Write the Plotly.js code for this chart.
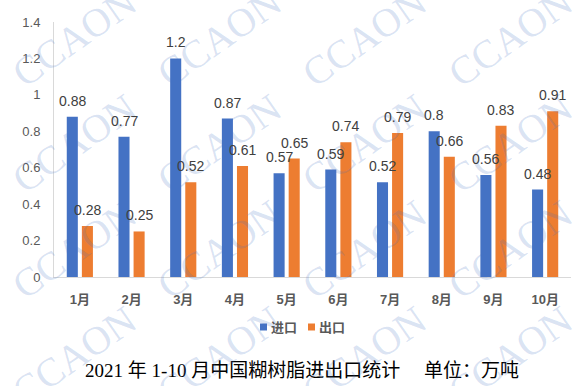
<!DOCTYPE html>
<html><head><meta charset="utf-8">
<script src="https://cdn.plot.ly/plotly-3.0.1.min.js"></script>
<style>html,body{margin:0;padding:0;background:#fff}#chart{width:588px;height:386px}</style>
</head><body><div id="chart"></div>
<script>
// ---- data ----
const months = ['1月','2月','3月','4月','5月','6月','7月','8月','9月','10月'];
const importVals = [0.88, 0.77, 1.2, 0.87, 0.57, 0.59, 0.52, 0.8, 0.56, 0.48];
const exportVals = [0.28, 0.25, 0.52, 0.61, 0.65, 0.74, 0.79, 0.66, 0.83, 0.91];
const seriesNames = ['进口', '出口'];
const yTickVals = [0, 0.2, 0.4, 0.6, 0.8, 1, 1.2, 1.4];
const yTickText = ['0', '0.2', '0.4', '0.6', '0.8', '1', '1.2', '1.4'];
const titleText = '2021 年 1-10 月中国糊树脂进出口统计\u3000 单位：万吨';
const watermarkText = 'CCAON';

// ---- style ----
const colors = ['#4472C4', '#ED7D31'];
const W = 588, H = 386;
const M = {l: 54, r: 17, t: 22, b: 109};
const PW = W - M.l - M.r, PH = H - M.t - M.b;
const px2x = p => (p - M.l) / PW;
const py2y = p => (H - M.b - p) / PH;
const sans = 'Liberation Sans, Arial, Noto Sans CJK SC, sans-serif';

const seriesVals = [importVals, exportVals];
const traces = seriesVals.map((vals, s) => ({
  type: 'bar', x: months, y: vals, name: seriesNames[s],
  marker: {color: colors[s]}, showlegend: false, hoverinfo: 'skip'
}));

const annotations = [];
// watermarks
const wmCols = [74, 219, 364, 510], wmRows = [37, 143, 249, 355];
wmRows.forEach(r => wmCols.forEach(c => annotations.push({
  xref: 'paper', yref: 'paper', x: px2x(c), y: py2y(r),
  xanchor: 'center', yanchor: 'middle', showarrow: false,
  text: watermarkText, textangle: -35,
  font: {family: 'Liberation Serif, serif', size: 40, color: 'rgba(68,114,196,0.2)'}
})));
// data labels
seriesVals.forEach((vals, s) => vals.forEach((v, i) => annotations.push({
  xref: 'x', yref: 'y', x: months[i], y: v, text: String(v),
  showarrow: false, yanchor: 'bottom', xshift: s ? 7.5 : -7.5, yshift: 6,
  font: {family: sans, size: 14, color: '#404040'}
})));
// legend
const shapes = [];
const legendX = [260, 308];
seriesNames.forEach((n, s) => {
  shapes.push({type: 'rect', xref: 'paper', yref: 'paper',
    x0: px2x(legendX[s]), x1: px2x(legendX[s] + 7),
    y0: py2y(330.5), y1: py2y(323.5), fillcolor: colors[s], line: {width: 0}});
  annotations.push({xref: 'paper', yref: 'paper', x: px2x(legendX[s] + 9), y: py2y(327),
    xanchor: 'left', yanchor: 'middle', showarrow: false, text: n,
    font: {family: sans, size: 13, color: '#595959', weight: 'bold'}});
});

const layout = {
  width: W, height: H, margin: M,
  paper_bgcolor: '#fff', plot_bgcolor: 'rgba(0,0,0,0)',
  barmode: 'group', bargap: 0.416, bargroupgap: 0.267,
  showlegend: false,
  title: {text: titleText, xref: 'container', yref: 'container',
    x: 302 / W, xanchor: 'center', y: 1 - 370 / H, yanchor: 'middle',
    font: {family: 'Liberation Serif, Noto Sans CJK SC, serif', size: 19, color: '#000'}},
  xaxis: {showgrid: false, zeroline: false, showline: true, linecolor: '#d9d9d9', linewidth: 1,
    ticks: '', ticklabelstandoff: 10,
    tickfont: {family: sans, size: 13, color: '#595959', weight: 'bold'}},
  yaxis: {range: [0, 1.4], tickvals: yTickVals, ticktext: yTickText,
    showgrid: false, zeroline: false, showline: true, linecolor: '#d9d9d9', linewidth: 1,
    ticks: '', ticklabelstandoff: 10,
    tickfont: {family: sans, size: 13, color: '#595959'}},
  annotations: annotations, shapes: shapes
};
Plotly.newPlot('chart', traces, layout, {staticPlot: true, displayModeBar: false});
</script></body></html>
